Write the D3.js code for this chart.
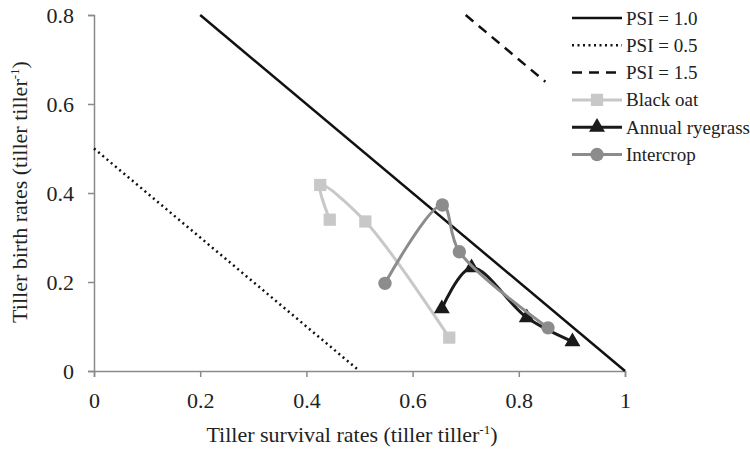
<!DOCTYPE html>
<html>
<head>
<meta charset="utf-8">
<script src="https://cdn.jsdelivr.net/npm/d3@7"></script>
<style>
  body { margin: 0; background: #fff; }
  svg { font-family: "Liberation Serif", "Times New Roman", serif; }
</style>
</head>
<body>
<svg id="chart" width="750" height="449"></svg>
<script>
// == Daten ==
// PSI-Linien (Überlebensrate, Geburtsrate)
const psi10 = [[0.2, 0.8], [1.0, 0.0]];
const psi05 = [[0.0, 0.5], [0.5, 0.0]];
const psi15 = [[0.7, 0.8], [0.85, 0.65]];
// Messreihen
const blackOat = [[0.444, 0.340], [0.426, 0.418], [0.511, 0.336], [0.669, 0.075]];
const ryegrass = [[0.655, 0.140], [0.711, 0.232], [0.815, 0.120], [0.901, 0.066]];
const intercrop = [[0.548, 0.197], [0.656, 0.373], [0.688, 0.268], [0.855, 0.097]];
const xTicks = [0, 0.2, 0.4, 0.6, 0.8, 1];
const yTicks = [0, 0.2, 0.4, 0.6, 0.8];

const svg = d3.select('#chart');
const x = d3.scaleLinear().domain([0, 1]).range([94, 625]);
const y = d3.scaleLinear().domain([0, 0.8]).range([371, 15]);
const AXIS = '#8a8a8a';
const FS = 22;      // Achsen
const LFS = 19;     // Legende

// Achsen
const xAxis = svg.append('g').attr('transform', `translate(0,${y(0)})`)
    .call(d3.axisBottom(x).tickValues(xTicks).tickSize(6).tickPadding(15)
        .tickFormat(d => d === 0 || d === 1 ? d : d3.format('.1f')(d)));
const yAxis = svg.append('g').attr('transform', `translate(${x(0)},0)`)
    .call(d3.axisLeft(y).tickValues(yTicks).tickSize(6).tickPadding(14)
        .tickFormat(d => d === 0 ? '0' : d3.format('.1f')(d)));
[xAxis, yAxis].forEach(a => {
    a.select('.domain').attr('stroke', AXIS).attr('stroke-width', 1.5);
    a.selectAll('.tick line').attr('stroke', AXIS).attr('stroke-width', 1.5);
    a.selectAll('.tick text').attr('font-size', FS).attr('fill', '#222')
        .attr('font-family', '"Liberation Serif", serif');
});

// Achsentitel
const xTitle = svg.append('text').attr('x', 352).attr('y', 442)
    .attr('text-anchor', 'middle').attr('font-size', FS).attr('fill', '#222');
xTitle.append('tspan').text('Tiller survival rates (tiller tiller');
xTitle.append('tspan').attr('dy', -8).attr('font-size', 13).text('-1');
xTitle.append('tspan').attr('dy', 8).text(')');

const yTitle = svg.append('text')
    .attr('transform', 'translate(27,192) rotate(-90)')
    .attr('text-anchor', 'middle').attr('font-size', FS).attr('fill', '#222');
yTitle.append('tspan').text('Tiller birth rates (tiller tiller');
yTitle.append('tspan').attr('dy', -8).attr('font-size', 13).text('-1');
yTitle.append('tspan').attr('dy', 8).text(')');

// Linien
const straight = d3.line().x(d => x(d[0])).y(d => y(d[1]));
const smooth = d3.line().x(d => x(d[0])).y(d => y(d[1])).curve(d3.curveCatmullRom.alpha(0.5));

const plot = svg.append('g');
plot.append('path').attr('d', straight(psi10)).attr('fill', 'none')
    .attr('stroke', '#111').attr('stroke-width', 2.5);
plot.append('path').attr('d', straight(psi05)).attr('fill', 'none')
    .attr('stroke', '#111').attr('stroke-width', 2.5).attr('stroke-dasharray', '2 3.5');
plot.append('path').attr('d', straight(psi15)).attr('fill', 'none')
    .attr('stroke', '#111').attr('stroke-width', 2.5).attr('stroke-dasharray', '10 7');

const series = [
    { name: 'Black oat', data: blackOat, color: '#c8c8c8', symbol: d3.symbolSquare, size: 150 },
    { name: 'Annual ryegrass', data: ryegrass, color: '#1a1a1a', symbol: d3.symbolTriangle, size: 110 },
    { name: 'Intercrop', data: intercrop, color: '#8c8c8c', symbol: d3.symbolCircle, size: 140 }
];

series.forEach(s => {
    plot.append('path').attr('d', smooth(s.data)).attr('fill', 'none')
        .attr('stroke', s.color).attr('stroke-width', 3);
    plot.selectAll(null).data(s.data).enter().append('path')
        .attr('d', d3.symbol().type(s.symbol).size(s.size))
        .attr('transform', d => `translate(${x(d[0])},${y(d[1])})`)
        .attr('fill', s.color);
});

// Legende
const legendItems = [
    { name: 'PSI = 1.0', color: '#111', dash: null, width: 2.5 },
    { name: 'PSI = 0.5', color: '#111', dash: '2 3.5', width: 2.5 },
    { name: 'PSI = 1.5', color: '#111', dash: '10 7', width: 2.5 }
].concat(series.map(s => ({ name: s.name, color: s.color, dash: null, width: 3, s: s })));

const legend = svg.append('g');
legendItems.forEach((it, i) => {
    const ly = 18 + i * 27.3;
    legend.append('line').attr('x1', 572).attr('x2', 622).attr('y1', ly).attr('y2', ly)
        .attr('stroke', it.color).attr('stroke-width', it.width)
        .attr('stroke-dasharray', it.dash);
    if (it.s) {
        legend.append('path').attr('d', d3.symbol().type(it.s.symbol).size(it.s.size))
            .attr('transform', `translate(597,${ly})`).attr('fill', it.color);
    }
    legend.append('text').attr('x', 626).attr('y', ly + 6.5).attr('font-size', LFS)
        .attr('fill', '#222').text(it.name);
});
</script>
</body>
</html>
